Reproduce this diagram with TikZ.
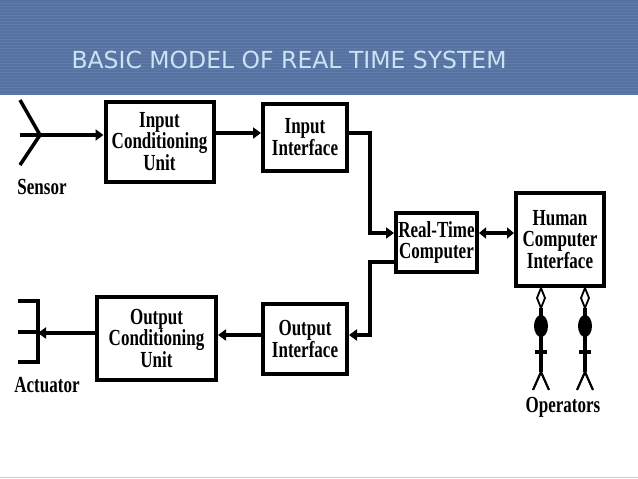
\documentclass[tikz,border=0pt]{standalone}
\usepackage{fontspec}
\setmainfont{Liberation Serif}
\newfontfamily\dia[FakeStretch=0.74]{Liberation Serif}
\newfontfamily\ttl{DejaVu Sans}
\usetikzlibrary{arrows.meta}
\definecolor{band}{HTML}{5572A3}
\definecolor{ttlc}{HTML}{C8E4F2}
\begin{document}
\begin{tikzpicture}[x=1pt,y=-1pt,
  blk/.style={draw,line width=4pt,align=center,font=\dia\bfseries\fontsize{23}{21}\selectfont,inner sep=0pt},
  lbl/.style={font=\dia\bfseries\fontsize{23}{23}\selectfont},
  ln/.style={line width=3.5pt},
  arr/.style={line width=3.5pt,-{Triangle[length=8pt,width=11pt]}}]
\useasboundingbox (0,0) rectangle (638,479);
\fill[band] (0,0) rectangle (638,95);
\foreach \y in {3,6,...,93} \draw[white,opacity=0.07,line width=0.8pt] (0,\y) -- (638,\y);
\node[anchor=west,text=ttlc,font=\ttl\fontsize{23.5}{25}\selectfont] (title) at (68,60) {BASIC MODEL OF REAL TIME SYSTEM};
\draw[gray!40,line width=1pt] (0,477) -- (638,477);
% boxes
\node[blk,minimum width=108,minimum height=80] (icu) at (159.5,141.5) {Input\\Conditioning\\Unit};
\node[blk,minimum width=84,minimum height=67] (ii) at (305,137.5) {Input\\Interface};
\node[blk,minimum width=81,minimum height=59] (rtc) at (436.5,242.5) {Real-Time\\Computer};
\node[blk,minimum width=88,minimum height=93] (hci) at (560,239.5) {Human\\Computer\\Interface};
\node[blk,minimum width=84,minimum height=70] (oi) at (305,339) {Output\\Interface};
\node[blk,minimum width=119,minimum height=83] (ocu) at (156.5,338.5) {Output\\Conditioning\\Unit};
% sensor
\coordinate (s0) at (20,135);
\draw[ln] (20,100) -- (40,135) -- (20,165);
\draw[arr] (s0) -- (icu.west |- s0);
\node[lbl] (sensor) at (42,187) {Sensor};
\draw[arr] (icu.east |- 0,133) -- (ii.west |- 0,133);
\coordinate (j1) at (370,133);
\draw[arr] (ii.east |- j1) -- (j1) |- (rtc.west |- 0,233);
\coordinate (j2) at (370,262);
\draw[arr] (rtc.west |- j2) -- (j2) |- (oi.east |- 0,335);
\draw[arr] (oi.west |- 0,335) -- (ocu.east |- 0,335);
\coordinate (a0) at (38,333);
\draw[arr] (ocu.west |- a0) -- (a0);
\draw[ln] (18,301) -- (38,301) -- (38,362) -- (18,362);
\draw[ln] (18,332) -- (38,332);
\node[lbl] (act) at (47,385) {Actuator};
\draw[line width=3.5pt,{Triangle[length=7pt,width=11pt]}-{Triangle[length=7pt,width=11pt]}] (rtc.east |- 0,233) -- (hci.west |- 0,233);
% operators
\foreach \x/\n in {541/p,585/q}{
  \coordinate (\n d) at (\x,287);
  \draw[line width=1.8pt,fill=white] (\x,288) -- (\x+4,298) -- (\x,308) -- (\x-4,298) -- cycle;
  \draw[ln] (\x,308) -- (\x,316);
  \fill (\x,326) ellipse (7pt and 11pt);
  \draw[ln] (\x,336) -- (\x,372) (\x-6,352) -- (\x+6,352);
  \draw[line width=2.2pt] (\x-8,390) -- (\x,372) -- (\x+8,390);
}
\node[lbl] (ops) at (563,407) {Operators};
\end{tikzpicture}
\end{document}
